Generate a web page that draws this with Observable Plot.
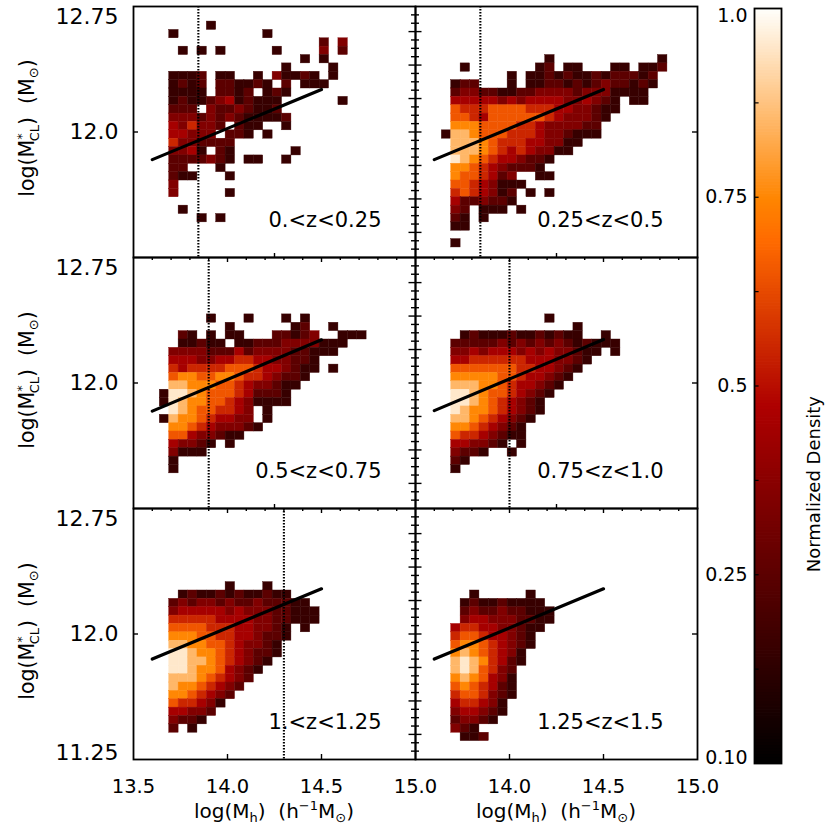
<!DOCTYPE html>
<html><head><meta charset="utf-8">
<script src="https://cdn.jsdelivr.net/npm/d3@7"></script>
<script src="https://cdn.jsdelivr.net/npm/@observablehq/plot@0.6"></script>
<style>
body{margin:0;background:#fff;}
#wrap{position:relative;width:830px;height:830px;overflow:hidden;}
#wrap svg{position:absolute;left:0;top:0;}
</style></head><body><div id="wrap"></div>
<script>
// ---------- data ----------
const panelLabels = ["0.<z<0.25", "0.25<z<0.5", "0.5<z<0.75", "0.75<z<1.0", "1.<z<1.25", "1.25<z<1.5"];
const panelCol = [0, 1, 0, 1, 0, 1];
const panelRow = [0, 0, 1, 1, 2, 2];
const limitX = [13.845, 13.845, 13.9, 14.0, 14.3, NaN];
const fitX0 = [13.6, 13.6, 13.6, 13.6, 13.6, 13.6];
const fitY0 = [11.835, 11.835, 11.832, 11.835, 11.85, 11.85];
const fitX1 = [14.5, 14.5, 14.5, 14.5, 14.5, 14.5];
const fitY1 = [12.254, 12.254, 12.258, 12.26, 12.27, 12.27];
const xTickLabelsLeft = [13.5, 14.0, 14.5, 15.0];
const xTickLabelsRight = [14.0, 14.5, 15.0];
const cbTickValues = [1.0, 0.75, 0.5, 0.25, 0.0];
const cbTickLabels = ["1.0", "0.75", "0.5", "0.25", "0.10"];
// 2D histogram grids: column i -> x from 13.64 + 0.05 i, row k -> y top 12.66 - 0.05 k ; digit = density level
const binX0 = 13.64, binY0 = 12.66, binW = 0.05;
const gridZ0 = [
".....1", ".1.........1", ".................2.3", "..1.1.1.....1....3.2", "...............1.1",
".............1....1", ".1112.11..1.31121.1", ".1212.221121.2.111", ".1111.2212.121", ".121123412111......1",
".222.32232112", ".3332323211112", ".435332.211..1", ".44333.221.1", ".5332222", ".3341.21......1",
".2222321.11..1", ".22...1", ".211...1", ".3", ".3.....1", "", "..1", "....1.1"];
const gridZ1 = [
"", "", "", "", "...........1...........1", "..1.......12.11...11.112", ".......1.11212112122212",
".122...1.11221212322121", ".233221122333323331111", ".444443434444334321.11", ".655566665554433211",
".66546666665433321", ".7776666554333322", "18876665554332111", ".88876555443311", ".8887654543311",
".98765443221", ".7765432221", ".7665423..11", ".66543111", ".5654312.1.1", ".4223221", ".32.111.1",
".21.1", ".11", "", ".1"];
const gridZ2 = [
"", "", "", "", "", ".....1...1...1.1", ".......1......12..1", "..21.1.11...22123..111",
"..11211.112223333111", ".333322242333322111", ".4443344554433221", ".5455556665443211.1",
".677667765543221", ".88777665433211", "19987666542221", "19877665431111", ".987665543.1",
"1877654433.1", ".7765433321", ".66433211", ".43321.1", ".3111", ".1", ".1"];
const gridZ3 = [
"", "", "", "", "", "...........1", "..............1", "..1211121121211..1", ".222223232323212111",
".3343444343433211.1", ".445555554443321", ".66666665544321", ".7777766544321", ".888776544321",
".99876654321", ".9987654321", ".9877654321", ".887654321", ".77654321", ".65543211", ".443321.1",
".3221..1", ".21", ".1"];
const gridZ4 = [
"", "", "", "", "", "", "", ".......1...1", "..121121211211", ".232332322322211", ".3444443433322111",
".5555544443322111", ".6666555443321.1", ".7776655443221", ".887766543321", ".998776543221",
".99887654321", ".9987764321", ".888765432", ".87765432", ".7765432", ".655431", ".44332", ".3221", ".2.1"];
const gridZ5 = [
"", "", "", "", "", "", "", "", "...1.....1", "..121121111", "..2322322111", "..3443332211",
".4554433211", ".566544321", ".677654321", ".78765431", ".89875421", ".8986532", ".7876431",
".6765421", ".5665321", ".455431", ".344321", ".23321", ".321", "..112"];
const grids = [gridZ0, gridZ1, gridZ2, gridZ3, gridZ4, gridZ5];

// ---------- derived tables ----------
const cells = [];
grids.forEach((g, p) => g.forEach((row, k) => [...row].forEach((ch, i) => {
  if (ch >= "1" && ch <= "9") cells.push({
    fx: panelCol[p], fy: panelRow[p],
    x1: binX0 + i * binW, x2: binX0 + (i + 1) * binW,
    y1: binY0 - (k + 1) * binW, y2: binY0 - k * binW,
    t: (+ch + 0.5) / 10
  });
})));
const panels = panelLabels.map((label, p) => ({p, label, fx: panelCol[p], fy: panelRow[p], lim: limitX[p]}));
const fitPts = panels.flatMap(d => [
  {p: d.p, fx: d.fx, fy: d.fy, x: fitX0[d.p], y: fitY0[d.p]},
  {p: d.p, fx: d.fx, fy: d.fy, x: fitX1[d.p], y: fitY1[d.p]}]);

function redTemp(t) {
  const i = 255 * Math.max(0, Math.min(1, t));
  const r = Math.min(255, 1.45 * i), g = Math.max(0, Math.min(255, 1.9 * (i - 120))), b = Math.max(0, Math.min(255, 3.9 * (i - 190)));
  return `rgb(${r|0},${g|0},${b|0})`;
}

const FONT = "DejaVu Sans, sans-serif";
const pxX = 1.5 / 282, pxY = 1.5 / 251.67;   // data units per pixel (for tick lengths)
const rows = [0, 1, 2], cols = [0, 1];

// tick tables
const midTicks = [];
rows.forEach(fy => {
  d3.range(11.30, 12.7001, 0.05).forEach(v => {
    const major = Math.abs(((v - 12.0) / 0.2) - Math.round((v - 12.0) / 0.2)) < 1e-6;
    const L = major ? 6.5 : 4;
    midTicks.push({fx: 0, fy, y: v, x1: 15 - L * pxX, x2: 15});
    midTicks.push({fx: 1, fy, y: v, x1: 13.5, x2: 13.5 + L * pxX});
  });
});
const topTicks = [];
[1, 2].forEach(fy => cols.forEach(fx => d3.range(1, 15).forEach(j => {
  const v = 13.5 + j * 0.1;
  const L = (j === 5 || j === 10) ? 5 : 3;
  topTicks.push({fx, fy, x: v, y1: 12.75 - L * pxY, y2: 12.75});
})));
const botTicks = [];
cols.forEach(fx => {
  [14.0, 14.5].forEach(v => botTicks.push({fx, fy: 2, x: v, y1: 11.25, y2: 11.25 + 5 * pxY}));
  [0, 1].forEach(fy => botTicks.push({fx, fy, x: 14.25, y1: 11.25, y2: 11.25 + 4 * pxY}));
});
const sideTicks = rows.flatMap(fy => [
  {fx: 0, fy, y: 12.0, x1: 13.5, x2: 13.5 + 5 * pxX},
  {fx: 1, fy, y: 12.0, x1: 15 - 5 * pxX, x2: 15}]);
const xLabels = [...xTickLabelsLeft.map(v => ({fx: 0, fy: 2, x: v})), ...xTickLabelsRight.map(v => ({fx: 1, fy: 2, x: v}))];
const yTop = rows.map(fy => ({fx: 0, fy, y: 12.75, s: "12.75"}));
const yMid = rows.map(fy => ({fx: 0, fy, y: 12.0, s: "12.0"}));
const yBot = [{fx: 0, fy: 2, y: 11.25, s: "11.25"}];

const chart = Plot.plot({
  width: 830, height: 830,
  marginLeft: 133, marginRight: 133, marginTop: 5, marginBottom: 70,
  style: {fontFamily: FONT, background: "transparent", overflow: "visible"},
  x: {domain: [13.5, 15], axis: null},
  y: {domain: [11.25, 12.75], axis: null},
  fx: {domain: cols, padding: 0, axis: null},
  fy: {domain: rows, padding: 0, axis: null},
  color: {type: "linear", domain: [0, 1], interpolate: redTemp},
  marks: [
    Plot.rect(cells, {x1: "x1", x2: "x2", y1: "y1", y2: "y2", fx: "fx", fy: "fy", fill: "t", stroke: "t", strokeWidth: 0.4}),
    Plot.ruleX(panels.filter(d => !isNaN(d.lim)), {x: "lim", fx: "fx", fy: "fy", stroke: "black", strokeWidth: 2.1, strokeDasharray: "1.4,1.6"}),
    Plot.line(fitPts, {x: "x", y: "y", z: "p", fx: "fx", fy: "fy", stroke: "black", strokeWidth: 3.2}),
    Plot.ruleY(midTicks, {y: "y", x1: "x1", x2: "x2", fx: "fx", fy: "fy", stroke: "black", strokeWidth: 1.4}),
    Plot.ruleX(topTicks, {x: "x", y1: "y1", y2: "y2", fx: "fx", fy: "fy", stroke: "black", strokeWidth: 1.4}),
    Plot.ruleX(botTicks, {x: "x", y1: "y1", y2: "y2", fx: "fx", fy: "fy", stroke: "black", strokeWidth: 1.4}),
    Plot.ruleY(sideTicks, {y: "y", x1: "x1", x2: "x2", fx: "fx", fy: "fy", stroke: "black", strokeWidth: 1.4}),
    Plot.frame({stroke: "black", strokeWidth: 1.8}),
    Plot.text(panels, {fx: "fx", fy: "fy", text: "label", frameAnchor: "bottom-right", dx: -34, dy: -30.7, lineAnchor: "bottom", textAnchor: "end", fontSize: 21, fill: "black"}),
    Plot.text(yTop, {fx: "fx", fy: "fy", y: "y", text: "s", frameAnchor: "left", dx: -15, dy: 10, textAnchor: "end", fontSize: 22, fill: "black"}),
    Plot.text(yMid, {fx: "fx", fy: "fy", y: "y", text: "s", frameAnchor: "left", dx: -15, textAnchor: "end", fontSize: 22, fill: "black"}),
    Plot.text(yBot, {fx: "fx", fy: "fy", y: "y", text: "s", frameAnchor: "left", dx: -15, dy: -7, textAnchor: "end", fontSize: 22, fill: "black"}),
    Plot.text(xLabels, {fx: "fx", fy: "fy", x: "x", text: d => d.x.toFixed(1), frameAnchor: "bottom", dy: 20, lineAnchor: "top", fontSize: 19.5, fill: "black"})
  ]
});
document.getElementById("wrap").appendChild(chart);

// axis titles with sub/superscripts
const svg = d3.select(chart);
[128, 380, 631].forEach(cy => {
  const t = svg.append("text").attr("transform", `translate(34,${cy}) rotate(-90)`)
    .attr("text-anchor", "middle").attr("font-family", FONT).attr("font-size", 20.5).attr("fill", "black");
  t.append("tspan").text("log(M");
  t.append("tspan").attr("font-size", 13).attr("dy", -8).text("*");
  t.append("tspan").attr("font-size", 13).attr("dx", -8).attr("dy", 13).text("CL");
  t.append("tspan").attr("dy", -5).text(")  (M");
  t.append("tspan").attr("font-size", 13).attr("dy", 4).text("⊙");
  t.append("tspan").attr("dy", -4).text(")");
});
[274, 556].forEach(cx => {
  const t = svg.append("text").attr("x", cx).attr("y", 818).attr("text-anchor", "middle")
    .attr("font-family", FONT).attr("font-size", 20).attr("fill", "black");
  t.append("tspan").text("log(M");
  t.append("tspan").attr("font-size", 13).attr("dy", 4).text("h");
  t.append("tspan").attr("dy", -4).text(")  (h");
  t.append("tspan").attr("font-size", 13).attr("dy", -8).text("−1");
  t.append("tspan").attr("dy", 8).text("M");
  t.append("tspan").attr("font-size", 13).attr("dy", 4).text("⊙");
  t.append("tspan").attr("dy", -4).text(")");
});

// colour bar
const steps = d3.range(0, 256).map(i => i / 256);
const cbMinor = d3.range(1, 8).map(i => i / 8);
const cb = Plot.plot({
  width: 140, height: 830,
  marginLeft: 64, marginRight: 49, marginTop: 8, marginBottom: 67,
  style: {fontFamily: FONT, background: "transparent", overflow: "visible"},
  x: {domain: [0, 1], axis: null},
  y: {domain: [0, 1], axis: null},
  color: {type: "linear", domain: [0, 1], interpolate: redTemp},
  marks: [
    Plot.rect(steps, {x1: 0, x2: 1, y1: d => d, y2: d => d + 1 / 256 + 0.001, fill: d => d + 0.5 / 256}),
    Plot.ruleY(cbMinor, {y: d => d, x1: 0, x2: 0.17, stroke: "black", strokeWidth: 1.2}),
    Plot.frame({stroke: "black", strokeWidth: 1.8}),
    Plot.text([0], {y: cbTickValues[0], text: [cbTickLabels[0]], frameAnchor: "left", dx: -7, textAnchor: "end", lineAnchor: "top", fontSize: 19, fill: "black"}),
    Plot.text([1, 2, 3], {y: i => cbTickValues[i], text: i => cbTickLabels[i], frameAnchor: "left", dx: -7, textAnchor: "end", fontSize: 19, fill: "black"}),
    Plot.text([4], {y: cbTickValues[4], text: [cbTickLabels[4]], frameAnchor: "left", dx: -7, textAnchor: "end", lineAnchor: "bottom", fontSize: 19, fill: "black"}),
    Plot.text(["Normalized Density"], {frameAnchor: "right", dx: 33, dy: 10, rotate: -90, fontSize: 18, fill: "black"})
  ]
});
cb.style.left = "690px";
document.getElementById("wrap").appendChild(cb);
</script></body></html>
